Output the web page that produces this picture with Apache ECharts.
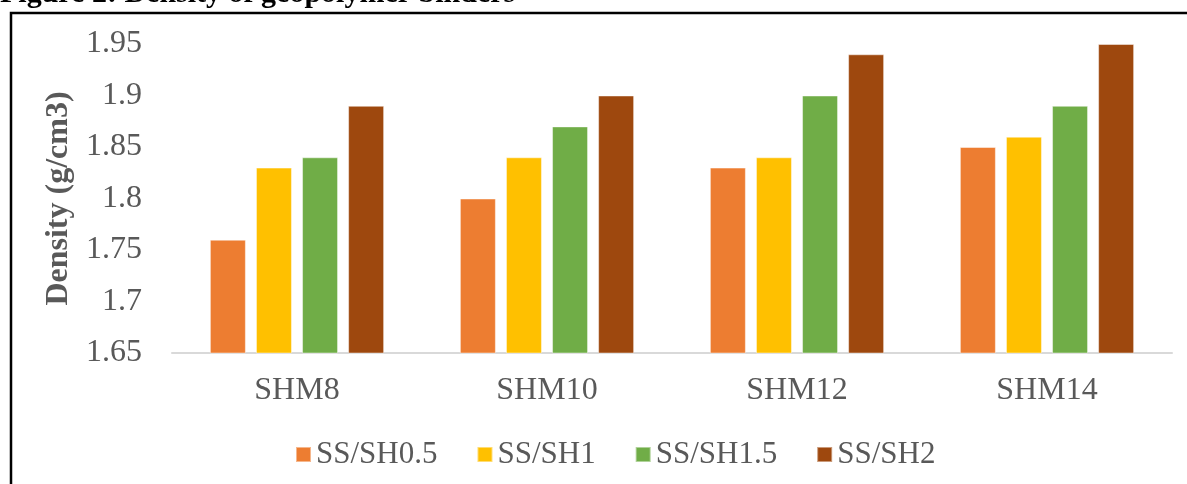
<!DOCTYPE html>
<html>
<head>
<meta charset="utf-8">
<script src="https://cdn.jsdelivr.net/npm/echarts@6/dist/echarts.min.js"></script>
<style>
  html, body { margin: 0; padding: 0; background: #fff; }
  #chart { width: 1187px; height: 484px; }
</style>
</head>
<body>
<div id="chart"></div>
<script>
// Mix designs on the x axis
const categories = ['SHM8', 'SHM10', 'SHM12', 'SHM14'];

// Density (g/cm3) for each SS/SH ratio
const ssSh05 = [1.76, 1.80, 1.83, 1.85];
const ssSh1 = [1.83, 1.84, 1.84, 1.86];
const ssSh15 = [1.84, 1.87, 1.90, 1.89];
const ssSh2 = [1.89, 1.90, 1.94, 1.95];

const seriesNames = ['SS/SH0.5', 'SS/SH1', 'SS/SH1.5', 'SS/SH2'];
const seriesData = [ssSh05, ssSh1, ssSh15, ssSh2];
const colors = ['#ED7D31', '#FFC000', '#70AD47', '#9E480E'];

const yMin = 1.65, yMax = 1.95, yStep = 0.05;

const FONT = "'Liberation Serif', 'Times New Roman', serif";
const GREY = '#595959';

const chart = echarts.init(document.getElementById('chart'), null, { renderer: 'canvas' });

chart.setOption({
  animation: false,
  backgroundColor: '#ffffff',
  color: colors,
  grid: { left: 172, right: 15, top: 44, bottom: 131, containLabel: false },
  graphic: [
    {
      type: 'text',
      left: 0,
      top: -21,
      style: {
        text: 'Figure 2: Density of geopolymer binders',
        font: "bold 30px 'Liberation Serif', 'Times New Roman', serif",
        fill: '#000'
      },
      z: 10
    },
    {
      type: 'rect',
      shape: { x: 11, y: 13, width: 1200, height: 500 },
      style: { fill: 'none', stroke: '#000', lineWidth: 2.5 },
      z: 10
    }
  ],
  legend: {
    left: 290,
    top: 434,
    itemWidth: 15,
    itemHeight: 15,
    itemGap: 39,
    icon: 'rect',
    textStyle: { fontFamily: FONT, fontSize: 31, color: GREY, padding: [0, 0, 0, 0] },
    data: seriesNames
  },
  xAxis: {
    type: 'category',
    data: categories,
    axisLine: { show: true, lineStyle: { color: '#D9D9D9', width: 2 } },
    axisTick: { show: false },
    axisLabel: { fontFamily: FONT, fontSize: 32, color: GREY, margin: 22 },
    splitLine: { show: false }
  },
  yAxis: {
    type: 'value',
    min: yMin,
    max: yMax,
    interval: yStep,
    name: 'Density (g/cm3)',
    nameLocation: 'middle',
    nameRotate: 90,
    nameGap: 92,
    nameTextStyle: { fontFamily: FONT, fontSize: 32, fontWeight: 'bold', color: GREY },
    axisLine: { show: false },
    axisTick: { show: false },
    splitLine: { show: false },
    axisLabel: {
      fontFamily: FONT, fontSize: 32, color: GREY, margin: 30,
      formatter: v => String(parseFloat(v.toFixed(2)))
    }
  },
  series: seriesData.map((d, i) => ({
    name: seriesNames[i],
    type: 'bar',
    data: d,
    barWidth: 36,
    barGap: '28%',
    itemStyle: { color: colors[i], borderColor: 'rgba(255,255,255,0.45)', borderWidth: 1 }
  }))
});
</script>
</body>
</html>
